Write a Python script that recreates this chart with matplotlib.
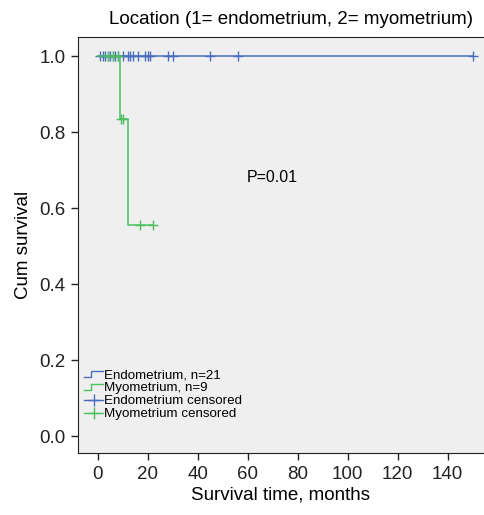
import numpy as np
import matplotlib
matplotlib.use("Agg")
import matplotlib.pyplot as plt
from matplotlib.legend_handler import HandlerBase
from matplotlib.lines import Line2D

plt.rcParams['font.family'] = ['Liberation Sans', 'DejaVu Sans']

# survival data (months, 1 = event, 0 = censored)
endo_times = [1, 2, 3, 4, 5, 6, 7, 8, 10, 12, 13, 14, 16, 19, 20, 21, 28, 30, 45, 56, 150]
endo_events = [0] * len(endo_times)
myo_times = [4, 6, 8, 9, 9.5, 10, 12, 17, 22]
myo_events = [0, 0, 0, 1, 0, 0, 1, 0, 0]

title = "Location (1= endometrium, 2= myometrium)"
labels = ["Endometrium, n=21", "Myometrium, n=9",
          "Endometrium censored", "Myometrium censored"]
p_text = "P=0.01"

blue = "#4a6cc0"
green = "#4cc060"


def km(times, events):
    t = np.array(times, float)
    e = np.array(events)
    order = np.argsort(t, kind="stable")
    t, e = t[order], e[order]
    s = 1.0
    xs, ys = [0.0], [1.0]
    cx, cy = [], []
    n = len(t)
    for i in range(n):
        at_risk = n - i
        if e[i] == 1:
            xs.append(t[i]); ys.append(s)
            s = s * (at_risk - 1) / at_risk
            xs.append(t[i]); ys.append(s)
        else:
            cx.append(t[i]); cy.append(s)
    xs.append(t[-1]); ys.append(s)
    return xs, ys, cx, cy


class StepHandler(HandlerBase):
    def create_artists(self, legend, orig, xd, yd, w, h, fontsize, trans):
        x = [xd, xd + w * 0.35, xd + w * 0.35, xd + w]
        y = [yd + h * 0.15, yd + h * 0.15, yd + h * 0.75, yd + h * 0.75]
        ln = Line2D(x, y, color=orig.get_color(), lw=1, transform=trans)
        return [ln]


fig = plt.figure(figsize=(4.84, 5.15), dpi=100)
ax = fig.add_axes([0.161, 0.120, 0.839, 0.808])
ax.set_facecolor("#efefef")

lines = []
for times, events, col in [(endo_times, endo_events, blue), (myo_times, myo_events, green)]:
    xs, ys, cx, cy = km(times, events)
    ln, = ax.plot(xs, ys, color=col, lw=1.1)
    ax.plot(cx, cy, ls="none", marker="+", ms=7, mew=1, color=col)
    lines.append(ln)

ax.set_xlim(-7.9, 154.5)
ax.set_ylim(-0.045, 1.05)
ax.set_xticks(np.arange(0, 141, 20))
ax.set_yticks(np.arange(0, 1.01, 0.2))
ax.set_yticklabels([f"{v:.1f}" for v in np.arange(0, 1.01, 0.2)])
ax.tick_params(labelsize=13.5, length=5, width=1, colors="#222222", pad=4)
ax.spines["right"].set_visible(False)
for s in ["left", "bottom", "top"]:
    ax.spines[s].set_color("#222222")

ax.set_xlabel("Survival time, months", fontsize=13.5, labelpad=3)
ax.set_ylabel("Cum survival", fontsize=13.5, labelpad=5)
fig.text(291 / 484, 1 - 19 / 515, title, ha="center", va="center", fontsize=13.5)
ax.text(0.416, 0.663, p_text, transform=ax.transAxes, fontsize=11.5, va="center")

cens = [Line2D([], [], color=blue, marker="+", ms=9, lw=1),
        Line2D([], [], color=green, marker="+", ms=9, lw=1)]
ax.legend(lines + cens, labels, loc="lower left", bbox_to_anchor=(0.003, 0.066),
          frameon=False, fontsize=9.6, handlelength=1.4, handletextpad=0.1,
          labelspacing=0.05, borderaxespad=0,
          handler_map={lines[0]: StepHandler(), lines[1]: StepHandler()})

fig.savefig("out.png", dpi=100)
